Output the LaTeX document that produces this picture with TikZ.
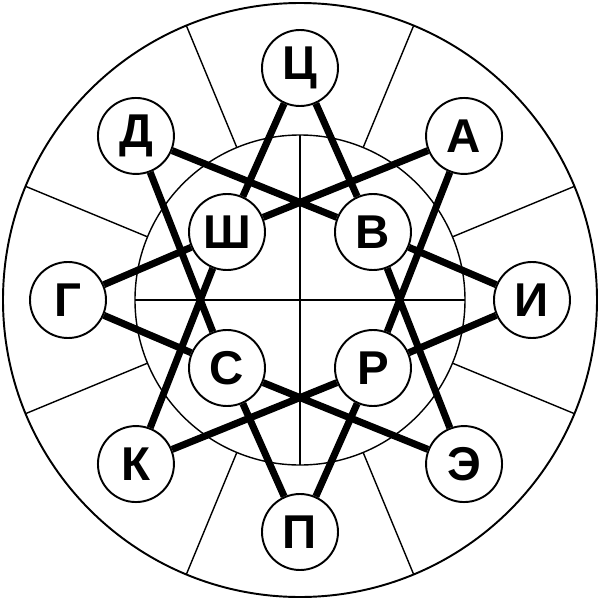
\documentclass[tikz,border=0pt]{standalone}
\usepackage{fontspec}
\newfontfamily\letterfont{Liberation Sans}
\tikzset{
  letter/.style={circle, draw, fill=white, line width=1.1pt, minimum size=1.52cm, inner sep=0pt,
    font=\letterfont\bfseries\fontsize{27}{27}\selectfont},
  link/.style={line width=4pt},
  thinline/.style={line width=0.8pt}
}
\begin{document}
\begin{tikzpicture}
\useasboundingbox (-6,-6) rectangle (6,6);
\draw[line width=1.1pt] (0,0) circle (5.94);
\draw[thinline] (0,0) circle (3.3);
\draw[thinline] (-3.3,0) -- (3.3,0);
\draw[thinline] (0,-3.3) -- (0,3.3);
\foreach \a in {22.5,67.5,...,337.5} \draw[thinline] (\a:3.3) -- (\a:5.94);
\node[letter] (ts) at (90:4.64) {Ц};
\node[letter] (a) at (45:4.64) {А};
\node[letter] (i) at (0:4.64) {И};
\node[letter] (e) at (-45:4.64) {Э};
\node[letter] (p) at (-90:4.64) {П};
\node[letter] (k) at (-135:4.64) {К};
\node[letter] (g) at (180:4.64) {Г};
\node[letter] (d) at (135:4.64) {Д};
\node[letter] (sh) at (-1.46,1.36) {Ш};
\node[letter] (v) at (1.46,1.36) {В};
\node[letter] (s) at (-1.46,-1.36) {С};
\node[letter] (r) at (1.46,-1.36) {Р};
\draw[link] (ts) -- (sh) (ts) -- (v) (a) -- (sh) (a) -- (r)
  (i) -- (v) (i) -- (r) (e) -- (v) (e) -- (s)
  (p) -- (s) (p) -- (r) (k) -- (sh) (k) -- (r)
  (g) -- (sh) (g) -- (s) (d) -- (v) (d) -- (s);
\end{tikzpicture}
\end{document}
